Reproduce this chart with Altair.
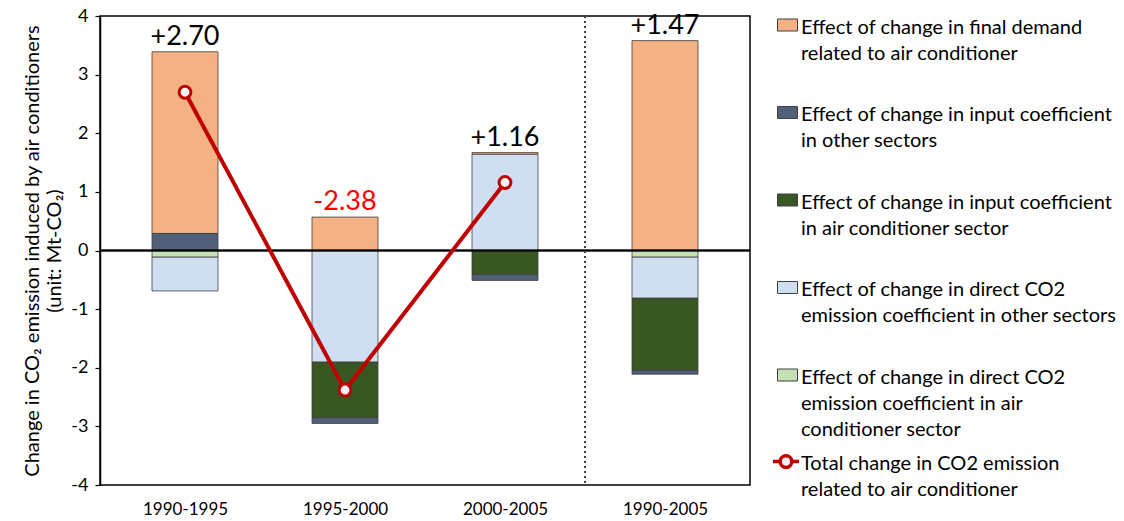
import altair as alt
import pandas as pd

periods = ["1990-1995", "1995-2000", "2000-2005", "1990-2005"]
series = [
    "Effect of change in final demand\nrelated to air conditioner",
    "Effect of change in input coefficient\nin other sectors",
    "Effect of change in input coefficient\nin air conditioner sector",
    "Effect of  change in direct CO2\nemission coefficient in other sectors",
    "Effect of  change in direct CO2\nemission coefficient in air\nconditioner sector",
]
final_demand = [3.10, 0.57, 0.03, 3.58]
input_other = [0.29, -0.10, -0.10, -0.07]
input_ac = [0.00, -0.95, -0.41, -1.23]
direct_other = [-0.58, -1.90, 1.64, -0.70]
direct_ac = [-0.11, 0.00, 0.00, -0.11]
totals = [2.70, -2.38, 1.16, 1.47]
total_labels = ["+2.70", "-2.38", "+1.16", "+1.47"]
line_name = "Total change in CO2 emission\nrelated to air conditioner"
line_periods = 3  # the total line joins the first three periods only

colors = ["#F4B183", "#506079", "#385723", "#CFDFF1", "#C5E0B4"]
FONT = "Lato"
Y_TITLE = ["Change in CO\u2082 emission induced by air conditioners", "(unit: Mt-CO\u2082)"]

series_values = [final_demand, input_other, input_ac, direct_other, direct_ac]
rows = []
for si, (name, vals) in enumerate(zip(series, series_values)):
    for pi, v in enumerate(vals):
        if v != 0:
            rows.append({"idx": pi, "series": name, "value": v, "order": len(series) - si})
bars_df = pd.DataFrame(rows)

tops = [sum(max(v, 0) for v in col) for col in zip(*series_values)]
label_df = pd.DataFrame({
    "idx": list(range(len(periods))),
    "value": tops,
    "label": total_labels,
    "tcolor": ["#FF0000" if t < 0 else "#000000" for t in totals],
})
line_df = pd.DataFrame({
    "idx": list(range(line_periods)),
    "value": totals[:line_periods],
    "name": [line_name] * line_periods,
})

x_label_expr = "[" + ",".join("'%s'" % p for p in periods) + "][datum.value]"
x_scale = alt.Scale(domain=[-0.5, len(periods) - 0.5], nice=False, zero=False)
y_scale = alt.Scale(domain=[-4, 4], nice=False, zero=False)

bars = alt.Chart(bars_df).mark_bar(size=66, stroke="#3F3F3F", strokeWidth=0.8).encode(
    x=alt.X("idx:Q", scale=x_scale,
            axis=alt.Axis(values=list(range(len(periods))), labelExpr=x_label_expr, title=None,
                          ticks=False, domain=False, grid=False, labelFontSize=17, labelPadding=16,
                          labelColor="#000000", labelFont=FONT)),
    y=alt.Y("value:Q", stack="zero", scale=y_scale,
            axis=alt.Axis(values=list(range(-4, 5)), labelExpr="'' + datum.value", title=Y_TITLE,
                          grid=False, tickSize=5, tickColor="#000000", tickWidth=1.2,
                          domainColor="#000000", domainWidth=1.5,
                          labelFontSize=18, labelPadding=7, labelColor="#000000", labelFont=FONT,
                          titleFontSize=20, titleFontWeight="normal", titleColor="#000000",
                          titleFont=FONT, titleLineHeight=22, titlePadding=6)),
    fill=alt.Fill("series:N", scale=alt.Scale(domain=series, range=colors), title=None,
                  legend=alt.Legend(orient="none", legendX=677, legendY=-9, padding=0, rowPadding=30.5,
                                    symbolType="M-1,0.15H1V1.35H-1Z", symbolSize=400,
                                    symbolStrokeColor="#3F3F3F", symbolStrokeWidth=1,
                                    labelExpr="split(datum.label, '\\n')", labelBaseline="top",
                                    labelFontSize=20, labelFont=FONT, labelColor="#000000",
                                    labelLimit=400, labelOffset=3)),
    order=alt.Order("order:Q"),
)

zero_line = alt.Chart(label_df).mark_rule(color="#000000", strokeWidth=1.5).encode(y=alt.datum(0))
divider = alt.Chart(label_df).mark_rule(color="#404040", strokeWidth=2, strokeDash=[2, 3]).encode(
    x=alt.datum(len(periods) - 1.5))

line = alt.Chart(line_df).mark_line(strokeWidth=4).encode(
    x="idx:Q",
    y="value:Q",
    stroke=alt.Stroke("name:N", scale=alt.Scale(domain=[line_name], range=["#C00000"]), title=None,
                      legend=alt.Legend(orient="none", legendX=671, legendY=423, padding=0,
                                        symbolType="M-1,0.58H-0.45M0.45,0.58H1M-0.45,0.58A0.45,0.45,0,1,0,0.45,0.58A0.45,0.45,0,1,0,-0.45,0.58",
                                        symbolSize=676, symbolStrokeWidth=3.5, symbolFillColor="#F2F2F2",
                                        labelExpr="split(datum.label, '\\n')", labelBaseline="top",
                                        labelFontSize=20, labelFont=FONT, labelColor="#000000",
                                        labelLimit=400, labelOffset=0)),
)
points = alt.Chart(line_df).mark_point(shape="circle", size=140, filled=True, fill="#F2F2F2",
                                       stroke="#C00000", strokeWidth=3, opacity=1).encode(
    x="idx:Q",
    y="value:Q",
)
labels = alt.Chart(label_df).mark_text(baseline="bottom", dy=-1, fontSize=27, font=FONT).encode(
    x="idx:Q",
    y="value:Q",
    text="label:N",
    color=alt.Color("tcolor:N", scale=None),
)

chart = alt.layer(bars, zero_line, divider, line, points, labels).properties(
    width=650, height=469,
    autosize=alt.AutoSizeParams(type="none"),
    padding={"left": 100, "top": 16, "right": 374, "bottom": 36},
    background="white",
).configure(
    style={"guide-label": {"lineHeight": 26}},
).configure_view(
    stroke="#000000", strokeWidth=1.5,
)

chart.save("out.html", embed_options={"renderer": "svg", "actions": False})
